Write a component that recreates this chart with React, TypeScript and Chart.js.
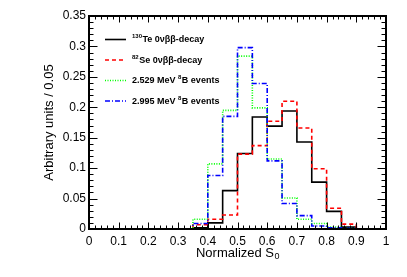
import React, { useEffect, useRef } from "react";
import { Chart, registerables } from "chart.js";

Chart.register(...registerables);

// ---- Data (bin edges 0..1 step 0.05; values per bin) ----
const binEdges = [
  0, 0.05, 0.1, 0.15, 0.2, 0.25, 0.3, 0.35, 0.4, 0.45, 0.5,
  0.55, 0.6, 0.65, 0.7, 0.75, 0.8, 0.85, 0.9, 0.95, 1.0,
];
const teValues = [0, 0, 0, 0, 0, 0, 0, 0.002, 0.010, 0.063, 0.124, 0.184, 0.169, 0.194, 0.143, 0.077, 0.029, 0.003, 0, 0];
const seValues = [0, 0, 0, 0, 0, 0, 0, 0.007, 0.016, 0.023, 0.123, 0.137, 0.177, 0.210, 0.166, 0.099, 0.034, 0.008, 0, 0];
const b8lowValues = [0, 0, 0, 0, 0, 0, 0, 0.016, 0.107, 0.195, 0.284, 0.199, 0.115, 0.051, 0.016, 0.009, 0.003, 0.001, 0, 0];
const b8highValues = [0, 0, 0, 0, 0, 0, 0, 0.009, 0.088, 0.185, 0.298, 0.239, 0.112, 0.042, 0.022, 0.005, 0.002, 0.001, 0, 0];

const seriesLabels = [
  "^{130}Te 0νββ-decay",
  "^{82}Se 0νββ-decay",
  "2.529 MeV ^{8}B events",
  "2.995 MeV ^{8}B events",
];
const seriesColors = ["#000000", "#ff0000", "#00ff00", "#0000ff"];
const seriesDashes: number[][] = [[], [4, 3], [1, 1.5], [5, 2, 1, 2]];

const xTitle = "Normalized S";
const xTitleSub = "0";
const yTitle = "Arbitrary units / 0.05";

const xMin = 0, xMax = 1, xMajor = 0.1, xMinorDiv = 5;
const yMin = 0, yMax = 0.35, yMajor = 0.05, yMinorDiv = 5;

const FONT = "'Liberation Sans', Arial, Helvetica, sans-serif";

function toPoints(vals: number[]) {
  const pts = vals.map((v, i) => ({ x: binEdges[i], y: v }));
  pts.push({ x: binEdges[binEdges.length - 1], y: vals[vals.length - 1] });
  return pts;
}

function fmt(v: number) {
  return String(Number(v.toFixed(3)));
}

function drawRich(ctx: CanvasRenderingContext2D, text: string, x: number, y: number, size: number, bold: boolean) {
  const parts = text.split(/(\^\{[^}]*\})/).filter((p) => p.length);
  let cx = x;
  for (const p of parts) {
    if (p.startsWith("^{")) {
      const t = p.slice(2, -1);
      ctx.font = `${bold ? "bold " : ""}${Math.round(size * 0.68)}px ${FONT}`;
      ctx.fillText(t, cx, y - size * 0.38);
      cx += ctx.measureText(t).width + 0.5;
    } else {
      ctx.font = `${bold ? "bold " : ""}${size}px ${FONT}`;
      ctx.fillText(p, cx, y);
      cx += ctx.measureText(p).width;
    }
  }
}

const framePlugin = {
  id: "rootFrame",
  afterDatasetsDraw(chart: any) {
    const { ctx, chartArea: a, scales } = chart;
    const xs = scales.x, ys = scales.y;
    ctx.save();
    ctx.strokeStyle = "#000";
    // ticks
    ctx.lineWidth = 1;
    const nx = Math.round((xMax - xMin) / xMajor) * xMinorDiv;
    for (let k = 0; k <= nx; k++) {
      const v = xMin + (k * xMajor) / xMinorDiv;
      const px = Math.round(xs.getPixelForValue(v)) + 0.5;
      const len = k % xMinorDiv === 0 ? 6.5 : 3.5;
      ctx.beginPath();
      ctx.moveTo(px, a.bottom);
      ctx.lineTo(px, a.bottom - len);
      ctx.moveTo(px, a.top);
      ctx.lineTo(px, a.top + len);
      ctx.stroke();
    }
    const ny = Math.round((yMax - yMin) / yMajor) * yMinorDiv;
    for (let k = 0; k <= ny; k++) {
      const v = yMin + (k * yMajor) / yMinorDiv;
      const py = Math.round(ys.getPixelForValue(v)) + 0.5;
      const len = k % yMinorDiv === 0 ? 8.5 : 4.5;
      ctx.beginPath();
      ctx.moveTo(a.left, py);
      ctx.lineTo(a.left + len, py);
      ctx.moveTo(a.right, py);
      ctx.lineTo(a.right - len, py);
      ctx.stroke();
    }
    // frame
    ctx.lineWidth = 2;
    ctx.strokeRect(a.left, a.top, a.right - a.left, a.bottom - a.top);
    ctx.restore();
  },
  afterDraw(chart: any) {
    const { ctx, chartArea: a } = chart;
    ctx.save();
    // legend
    const x0 = a.left + 16, x1 = a.left + 37, tx = a.left + 43;
    chart.data.datasets.forEach((ds: any, i: number) => {
      const y = a.top + 23.5 + i * 20.5;
      ctx.strokeStyle = ds.borderColor;
      ctx.lineWidth = ds.borderWidth;
      ctx.setLineDash(ds.borderDash || []);
      ctx.beginPath();
      ctx.moveTo(x0, y);
      ctx.lineTo(x1, y);
      ctx.stroke();
      ctx.setLineDash([]);
      ctx.fillStyle = "#000";
      ctx.textBaseline = "middle";
      ctx.textAlign = "left";
      drawRich(ctx, ds.label, tx, y + 0.5, 9, true);
    });
    // x title with subscript
    ctx.fillStyle = "#000";
    ctx.textBaseline = "middle";
    ctx.textAlign = "left";
    ctx.font = `13px ${FONT}`;
    const w1 = ctx.measureText(xTitle).width;
    ctx.font = `9px ${FONT}`;
    const w2 = ctx.measureText(xTitleSub).width;
    const cx = (a.left + a.right) / 2 - (w1 + w2) / 2;
    const ty = 253;
    ctx.font = `13px ${FONT}`;
    ctx.fillText(xTitle, cx, ty);
    ctx.font = `9px ${FONT}`;
    ctx.fillText(xTitleSub, cx + w1 + 0.5, ty + 4);
    ctx.restore();
  },
};

export default function App() {
  const ref = useRef<HTMLCanvasElement | null>(null);
  useEffect(() => {
    document.body.style.margin = "0";
    const valueSets = [teValues, seValues, b8lowValues, b8highValues];
    const chart = new Chart(ref.current as HTMLCanvasElement, {
      type: "line",
      data: {
        datasets: valueSets.map((vals, i) => ({
          label: seriesLabels[i],
          data: toPoints(vals),
          borderColor: seriesColors[i],
          borderDash: seriesDashes[i],
          borderWidth: 1.6,
          stepped: true,
          pointRadius: 0,
          fill: false,
          order: valueSets.length - 1 - i,
          borderJoinStyle: "miter",
        })),
      },
      options: {
        animation: false,
        responsive: false,
        devicePixelRatio: 1,
        layout: { padding: { top: 16, right: 21, left: 0, bottom: 0 } },
        plugins: { legend: { display: false }, tooltip: { enabled: false } },
        scales: {
          x: {
            type: "linear",
            min: xMin,
            max: xMax,
            grid: { display: false, drawTicks: false },
            border: { display: false },
            ticks: {
              stepSize: xMajor,
              color: "#000",
              padding: 5,
              maxRotation: 0,
              font: { family: FONT, size: 12 },
              callback: (v: any) => fmt(Number(v)),
            },
            afterFit: (s: any) => { s.height = 48; },
          },
          y: {
            type: "linear",
            min: yMin,
            max: yMax,
            grid: { display: false, drawTicks: false },
            border: { display: false },
            ticks: {
              stepSize: yMajor,
              color: "#000",
              padding: 3,
              font: { family: FONT, size: 12 },
              callback: (v: any) => fmt(Number(v)),
            },
            title: {
              display: true,
              text: yTitle,
              color: "#000",
              font: { family: FONT, size: 13 },
              padding: { top: 42, bottom: 0 },
            },
            afterFit: (s: any) => { s.width = 89; },
          },
        },
      },
      plugins: [framePlugin],
    } as any);
    return () => chart.destroy();
  }, []);
  return (
    <div style={{ position: "absolute", left: 0, top: 0, width: 407, height: 277, background: "#fff" }}>
      <canvas ref={ref} width={407} height={277} />
    </div>
  );
}
